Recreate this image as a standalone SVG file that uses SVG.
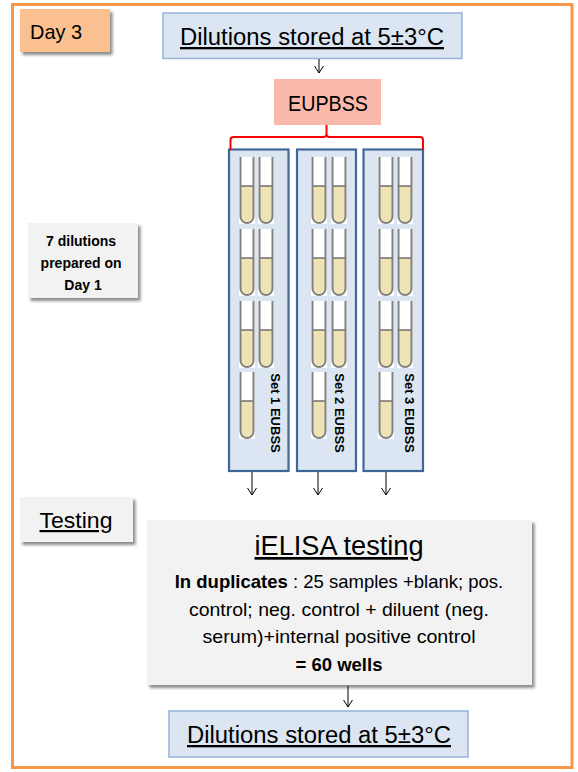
<svg xmlns="http://www.w3.org/2000/svg" xmlns:xlink="http://www.w3.org/1999/xlink" width="578" height="772" viewBox="0 0 578 772">
<style>
  text { font-family: "Liberation Sans", Arial, sans-serif; fill: #000; }
  .blue { fill: #DCE6F2; stroke: #95B3D7; stroke-width: 1.5; }
  .grey { fill: #F2F2F2; }
  .panel { fill: #DCE6F2; stroke: #3F6797; stroke-width: 2.2; }
  .conn { fill: none; stroke: #000; stroke-width: 1; }
  .ul { text-decoration: underline; }
  .b { font-weight: bold; }
  .set { font-weight: bold; font-size: 13px; }
  .body { font-size: 18.5px; }
</style>
<defs>
  <filter id="sh" x="-10%" y="-10%" width="130%" height="140%">
    <feDropShadow dx="2.5" dy="3" stdDeviation="1.8" flood-color="#000" flood-opacity="0.45"/>
  </filter>
  <marker id="ah" viewBox="-8 -5.5 9 11" refX="0" refY="0" markerWidth="9" markerHeight="11" markerUnits="userSpaceOnUse" orient="auto">
    <path d="M-7,-4.5 L0,0 L-7,4.5" fill="none" stroke="#000" stroke-width="1"/>
  </marker>
  <g id="tube">
    <rect width="16" height="67" fill="#fff"/>
    <path d="M1.5,29 V59.5 A6.5,6.5 0 0 0 14.5,59.5 V29 Z" fill="#EEE3B5"/>
    <path d="M1.5,29 H14.5" stroke="#4D4D4D" stroke-width="1.2"/>
    <path d="M1.5,0 V59.5 A6.5,6.5 0 0 0 14.5,59.5 V0" fill="none" stroke="#808080" stroke-width="2"/>
  </g>
</defs>

<rect id="frame" x="12.5" y="4.5" width="559.5" height="763" fill="#fff" stroke="#F79646" stroke-width="3"/>

<g id="day3">
  <rect x="20" y="9" width="90" height="43" fill="#FAC090" filter="url(#sh)"/>
  <text x="30" y="38.5" font-size="21" textLength="52" lengthAdjust="spacingAndGlyphs">Day 3</text>
</g>

<g id="top-storage">
  <rect class="blue" x="163" y="13" width="299" height="45.5"/>
  <text class="ul" x="312" y="45" font-size="23" text-anchor="middle" textLength="264" lengthAdjust="spacingAndGlyphs">Dilutions stored at 5±3°C</text>
</g>

<g id="eupbss">
  <rect x="274" y="79" width="107" height="46" fill="#FAB9AA"/>
  <text x="328" y="111" font-size="22.5" text-anchor="middle" textLength="80" lengthAdjust="spacingAndGlyphs">EUPBSS</text>
</g>

<g id="note">
  <rect class="grey" x="28" y="223" width="110" height="75" filter="url(#sh)"/>
  <text class="b" x="83" font-size="14" text-anchor="middle">
    <tspan x="83" y="246">7 dilutions</tspan>
    <tspan x="83" y="268">prepared on</tspan>
    <tspan x="83" y="290">Day 1</tspan>
  </text>
</g>

<g id="set1">
  <rect class="panel" x="229" y="149.5" width="59.5" height="321.5"/>
  <use href="#tube" x="239" y="157"/><use href="#tube" x="258" y="157"/>
  <use href="#tube" x="239" y="229"/><use href="#tube" x="258" y="229"/>
  <use href="#tube" x="239" y="301"/><use href="#tube" x="258" y="301"/>
  <use href="#tube" x="239" y="372"/>
  <text class="set" transform="translate(270.5,413) rotate(90)" text-anchor="middle">Set 1 EUBSS</text>
</g>

<g id="set2">
  <rect class="panel" x="297" y="149.5" width="59" height="321.5"/>
  <use href="#tube" x="311" y="157"/><use href="#tube" x="331" y="157"/>
  <use href="#tube" x="311" y="229"/><use href="#tube" x="331" y="229"/>
  <use href="#tube" x="311" y="301"/><use href="#tube" x="331" y="301"/>
  <use href="#tube" x="311" y="372"/>
  <text class="set" transform="translate(334.5,413) rotate(90)" text-anchor="middle">Set 2 EUBSS</text>
</g>

<g id="set3">
  <rect class="panel" x="363.5" y="149.5" width="59.5" height="321.5"/>
  <use href="#tube" x="378" y="157"/><use href="#tube" x="397" y="157"/>
  <use href="#tube" x="378" y="229"/><use href="#tube" x="397" y="229"/>
  <use href="#tube" x="378" y="301"/><use href="#tube" x="397" y="301"/>
  <use href="#tube" x="378" y="372"/>
  <text class="set" transform="translate(404.5,413) rotate(90)" text-anchor="middle">Set 3 EUBSS</text>
</g>

<g id="testing-label">
  <rect class="grey" x="20" y="497" width="113" height="45" filter="url(#sh)"/>
  <text class="ul" x="76" y="528" font-size="22" text-anchor="middle" textLength="73" lengthAdjust="spacingAndGlyphs">Testing</text>
</g>

<g id="ielisa">
  <rect class="grey" x="147" y="520" width="385" height="165" filter="url(#sh)"/>
  <text class="ul" x="339" y="555" font-size="27" text-anchor="middle" textLength="169" lengthAdjust="spacingAndGlyphs">iELISA testing</text>
  <text class="body" x="339" y="588" text-anchor="middle"><tspan class="b">In duplicates</tspan> : 25 samples +blank; pos.</text>
  <text class="body" x="339" y="616" text-anchor="middle" textLength="300" lengthAdjust="spacingAndGlyphs">control; neg. control + diluent (neg.</text>
  <text class="body" x="339" y="643" text-anchor="middle" textLength="273" lengthAdjust="spacingAndGlyphs">serum)+internal positive control</text>
  <text class="body b" x="339" y="671" text-anchor="middle">= 60 wells</text>
</g>

<g id="bottom-storage">
  <rect class="blue" x="169" y="711" width="299" height="46"/>
  <text class="ul" x="319" y="743" font-size="23" text-anchor="middle" textLength="264" lengthAdjust="spacingAndGlyphs">Dilutions stored at 5±3°C</text>
</g>

<g id="connectors">
  <path class="conn" d="M319,59 V73" marker-end="url(#ah)"/>
  <path d="M230.5,150 V140 Q230.5,137 233.5,137 H323.5 Q326.5,137 326.5,134 V125 M326.5,134 Q326.5,137 329.5,137 H420 Q423,137 423,140 V150" fill="none" stroke="#FF0000" stroke-width="2"/>
  <path class="conn" d="M252,472 V495" marker-end="url(#ah)"/>
  <path class="conn" d="M318,472 V495" marker-end="url(#ah)"/>
  <path class="conn" d="M386,472 V495" marker-end="url(#ah)"/>
  <path class="conn" d="M348,686 V707" marker-end="url(#ah)"/>
</g>
</svg>
